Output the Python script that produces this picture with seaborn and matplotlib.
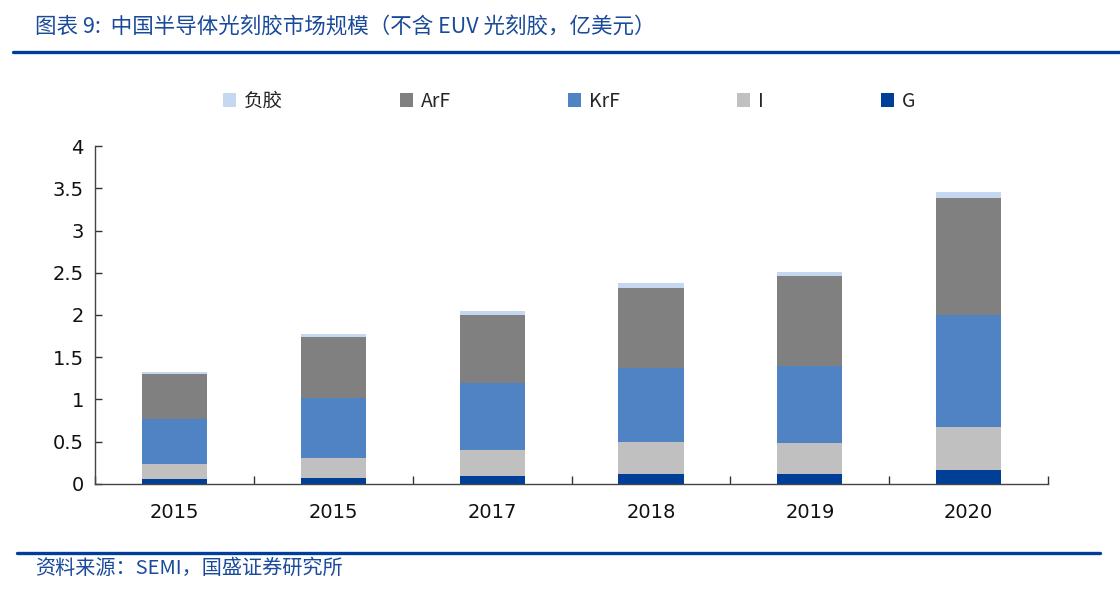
import matplotlib
matplotlib.use('Agg')
import matplotlib.pyplot as plt
import seaborn as sns
import numpy as np
import pandas as pd
from matplotlib.lines import Line2D
from matplotlib.patches import Patch

# data (亿美元)
years = ['2015', '2015', '2017', '2018', '2019', '2020']
g_vals = [0.06, 0.075, 0.10, 0.12, 0.12, 0.17]
i_vals = [0.18, 0.235, 0.30, 0.38, 0.36, 0.50]
krf_vals = [0.53, 0.71, 0.80, 0.87, 0.92, 1.33]
arf_vals = [0.53, 0.72, 0.80, 0.95, 1.06, 1.38]
neg_vals = [0.03, 0.03, 0.05, 0.06, 0.05, 0.07]

series = ['G', 'I', 'KrF', 'ArF', '负胶']
colors = {'G': '#003f98', 'I': '#c0c0c0', 'KrF': '#4f83c4',
          'ArF': '#808080', '负胶': '#c6d8ef'}

sns.set_style('ticks')
plt.rcParams['font.family'] = ['DejaVu Sans', 'Noto Sans CJK SC']

df = pd.DataFrame({'pos': range(len(years)), 'G': g_vals, 'I': i_vals,
                   'KrF': krf_vals, 'ArF': arf_vals, '负胶': neg_vals})
cum = df[series].cumsum(axis=1)
cum['pos'] = df['pos']

fig = plt.figure(figsize=(11.2, 5.96), dpi=100)
ax = fig.add_axes([0.0848, 0.188, 0.851, 0.567])

# stacked bars: draw cumulative totals from the top layer down
for s in reversed(series):
    sns.barplot(data=cum, x='pos', y=s, color=colors[s], width=0.41,
                saturation=1, ax=ax, edgecolor='none')

ax.set_ylim(0, 4)
ax.set_xlim(-0.5, len(years) - 0.5)
ax.set_yticks(np.arange(0, 4.01, 0.5))
ax.set_yticklabels(['0', '0.5', '1', '1.5', '2', '2.5', '3', '3.5', '4'])
ax.set_xticks(range(len(years)))
ax.set_xticklabels(years)
ax.set_xticks(np.arange(-0.5, len(years), 1.0), minor=True)
ax.tick_params(axis='x', which='major', length=0, pad=14, labelsize=14,
               labelcolor='#111111')
ax.tick_params(axis='x', which='minor', bottom=True, length=6, width=1,
               direction='in', color='#333333')
ax.tick_params(axis='y', left=True, length=5, width=1, direction='in', pad=8,
               labelsize=14, color='#333333', labelcolor='#111111')
ax.set_xlabel('')
ax.set_ylabel('')
for sp in ['top', 'right']:
    ax.spines[sp].set_visible(False)
for sp in ['left', 'bottom']:
    ax.spines[sp].set_color('#444444')
    ax.spines[sp].set_linewidth(1.0)

handles = [Patch(facecolor=colors[s], edgecolor='none', label=s)
           for s in reversed(series)]
fig.legend(handles=handles, loc='center', bbox_to_anchor=(0.508, 0.83), ncol=5,
           frameon=False, handlelength=0.7, handleheight=0.7,
           handletextpad=0.4, columnspacing=6.0,
           prop={'family': ['Noto Sans CJK SC', 'DejaVu Sans'], 'size': 14})

blue = '#1a4a9a'
fig.text(0.031, 0.953, '图表 9:  中国半导体光刻胶市场规模（不含 EUV 光刻胶，亿美元）',
         family=['Noto Sans CJK SC', 'DejaVu Sans'], fontsize=15.5, color=blue,
         style='italic', va='center', ha='left')
fig.add_artist(Line2D([0.0116, 1.0], [0.913, 0.913], color='#003f98', lw=2.4))
fig.add_artist(Line2D([0.015, 0.982], [0.072, 0.072], color='#003f98', lw=2.4))
fig.text(0.031, 0.046, '资料来源：SEMI，国盛证券研究所',
         family=['Noto Sans CJK SC', 'DejaVu Sans'], fontsize=14.5, color=blue,
         style='italic', va='center', ha='left')

fig.savefig('out.png', dpi=100)
